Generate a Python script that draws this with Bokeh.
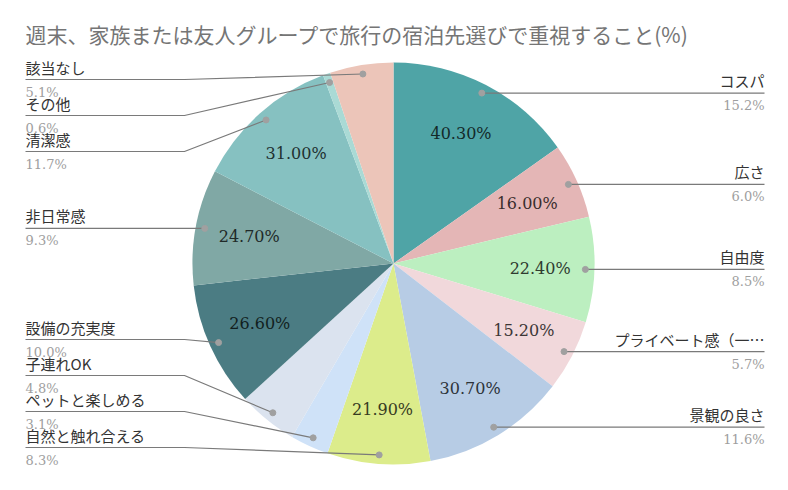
import math
from bokeh.plotting import figure
from bokeh.models import ColumnDataSource, Range1d
from bokeh.embed import file_html
from bokeh.resources import INLINE
from bokeh.core.properties import value

# ---------------- data ----------------
title_text = "週末、家族または友人グループで旅行の宿泊先選びで重視すること(%)"
categories = ["コスパ", "広さ", "自由度", "プライベート感（一…", "景観の良さ",
              "自然と触れ合える", "ペットと楽しめる", "子連れOK", "設備の充実度",
              "非日常感", "清潔感", "その他", "該当なし"]
values = [40.3, 16.0, 22.4, 15.2, 30.7, 21.9, 8.2, 12.7, 26.6, 24.7, 31.0, 1.6, 13.5]
colors = ["#4fa4a6", "#e4b6b6", "#bcefc0", "#f1d8db", "#b7cce5", "#dcec8b", "#cfe2f8",
          "#dbe3ef", "#4b7c83", "#80a8a5", "#86c1c1", "#aadad5", "#ecc5b9"]

# ---------------- layout ----------------
W, H = 788, 490
CX, CY, R = 393, H - 263, 201
LBL_LEFT_X, LBL_RIGHT_X = 25, 764
BEND_LEFT, BEND_RIGHT = CX - R - 8, CX + R + 6
GAP = 36
TOP_Y, BOT_Y = H - 79, H - 447

total = sum(values)
shares = [v / total * 100 for v in values]


def darken(hexc, f=0.25):
    r, g, b = (int(hexc[i:i + 2], 16) for i in (1, 3, 5))
    return "#%02x%02x%02x" % (int(r * f), int(g * f), int(b * f))


start, end, mid = [], [], []
cum = 0.0
for v in values:
    a0 = cum / total * 2 * math.pi
    cum += v
    a1 = cum / total * 2 * math.pi
    start.append(math.pi / 2 - a1)
    end.append(math.pi / 2 - a0)
    mid.append((a0 + a1) / 2)

p = figure(width=W, height=H, x_range=Range1d(0, W), y_range=Range1d(0, H),
           x_axis_type=None, y_axis_type=None, toolbar_location=None,
           output_backend="svg", min_border=0)
p.outline_line_color = None
p.grid.visible = False
p.background_fill_color = "white"

wsrc = ColumnDataSource(dict(start=start, end=end, color=colors))
p.wedge(x=CX, y=CY, radius=R, start_angle="start", end_angle="end",
        direction="anticlock", fill_color="color", line_color=None, source=wsrc)

# in-slice value labels
ix, iy, itxt, icol = [], [], [], []
for v, s, am, c in zip(values, shares, mid, colors):
    if s >= 5.5:
        d = R * 0.73
        ix.append(CX + d * math.sin(am))
        iy.append(CY + d * math.cos(am))
        itxt.append("%.2f%%" % v)
        icol.append(darken(c))
p.text(x="x", y="y", text="t", text_color="c", source=ColumnDataSource(dict(x=ix, y=iy, t=itxt, c=icol)),
       text_font=value("DejaVu Serif"), text_font_size="16px", text_align="center",
       text_baseline="middle")

# outer labels
dots = []
for i, am in enumerate(mid):
    d = R * 0.955
    dots.append((CX + d * math.sin(am), CY + d * math.cos(am)))

left = [i for i in range(len(values)) if math.sin(mid[i]) < 0]
right = [i for i in range(len(values)) if math.sin(mid[i]) >= 0]


def layout(idx):
    idx = sorted(idx, key=lambda i: -dots[i][1])
    ys = {}
    prev = None
    for i in idx:
        y = min(dots[i][1], TOP_Y)
        if prev is not None:
            y = min(y, prev - GAP)
        ys[i] = y
        prev = y
    nxt = None
    for i in reversed(idx):
        y = max(ys[i], BOT_Y)
        if nxt is not None:
            y = max(y, nxt + GAP)
        ys[i] = y
        nxt = y
    return ys


ly = {}
ly.update(layout(left))
ly.update(layout(right))

xs, ys = [], []
nx, ny, nt, na = [], [], [], []
for i in range(len(values)):
    dx, dy = dots[i]
    y = ly[i]
    if i in left:
        xs.append([LBL_LEFT_X, BEND_LEFT, dx]); ys.append([y, y, dy])
        nx.append(LBL_LEFT_X); na.append("left")
    else:
        xs.append([dx, BEND_RIGHT, LBL_RIGHT_X]); ys.append([dy, y, y])
        nx.append(LBL_RIGHT_X); na.append("right")
    ny.append(y)
    nt.append(categories[i])

p.multi_line(xs=xs, ys=ys, line_color="#7a7a7a", line_width=1.2)
p.scatter(x=[d[0] for d in dots], y=[d[1] for d in dots], size=6, color="#a0a0a0")

lsrc = ColumnDataSource(dict(x=nx, yn=[y + 2 for y in ny], yp=[y - 5 for y in ny], t=nt,
                             pt=["%.1f%%" % s for s in shares], a=na))
p.text(x="x", y="yn", text="t", text_align="a", text_baseline="bottom", source=lsrc,
       text_font=value("Noto Sans CJK JP"), text_font_size="15px", text_color="#333333")
p.text(x="x", y="yp", text="pt", text_align="a", text_baseline="top", source=lsrc,
       text_font=value("DejaVu Serif"), text_font_size="13px", text_color="#9e9e9e")

# title
p.text(x=[25], y=[H - 33], text=[title_text], text_baseline="middle",
       text_font=value("Noto Sans CJK JP"), text_font_size="21px", text_color="#757575")

open("out.html", "w").write(file_html(p, INLINE))
